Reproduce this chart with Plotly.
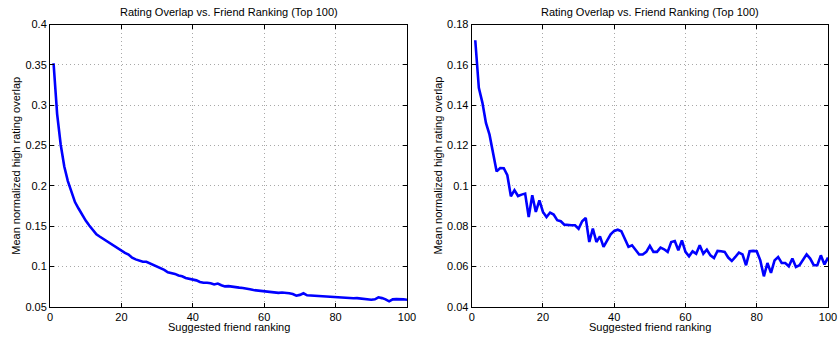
import plotly.graph_objects as go

rank = list(range(1, 101))

left_overlap = [
    0.352, 0.289, 0.251, 0.224, 0.206, 0.192, 0.180, 0.172, 0.164, 0.157,
    0.151, 0.145, 0.140, 0.137, 0.134, 0.131, 0.129, 0.126, 0.122, 0.119,
    0.117, 0.115, 0.111, 0.109, 0.107, 0.106, 0.106, 0.104, 0.102, 0.101,
    0.099, 0.096, 0.093, 0.092, 0.091, 0.089, 0.088, 0.086, 0.085, 0.084,
    0.083, 0.081, 0.080, 0.080, 0.0795, 0.078, 0.079, 0.077, 0.0755, 0.0758,
    0.0755, 0.0745, 0.074, 0.0735, 0.073, 0.072, 0.071, 0.0705, 0.070, 0.0695,
    0.0693, 0.069, 0.068, 0.0675, 0.068, 0.0678, 0.067, 0.066, 0.064, 0.065,
    0.067, 0.0645, 0.0642, 0.0638, 0.0635, 0.0632, 0.063, 0.0628, 0.063, 0.062,
    0.0615, 0.062, 0.061, 0.0612, 0.0608, 0.061, 0.0605, 0.060, 0.0595, 0.059,
    0.0595, 0.062, 0.061, 0.0595, 0.057, 0.0595, 0.0598, 0.060, 0.0595, 0.059,
]

right_overlap = [
    0.1722, 0.1486, 0.1413, 0.1312, 0.1254, 0.1164, 0.1072, 0.1089, 0.1088, 0.1053,
    0.0949, 0.0979, 0.0950, 0.0957, 0.0962, 0.0846, 0.0954, 0.0871, 0.0929, 0.0871,
    0.0846, 0.0868, 0.0858, 0.0830, 0.0825, 0.0808, 0.0805, 0.0805, 0.0805, 0.0788,
    0.0825, 0.0841, 0.0722, 0.0788, 0.0722, 0.0750, 0.0698, 0.0730, 0.0760, 0.0777,
    0.0783, 0.0775, 0.0739, 0.0698, 0.0706, 0.0681, 0.0660, 0.0660, 0.0673, 0.0703,
    0.0673, 0.0673, 0.0694, 0.0686, 0.0673, 0.0722, 0.0727, 0.0681, 0.0730, 0.0673,
    0.0651, 0.0676, 0.0664, 0.0706, 0.0664, 0.0684, 0.0656, 0.0643, 0.0678, 0.0676,
    0.0673, 0.0645, 0.0628, 0.0648, 0.0670, 0.0661, 0.0607, 0.0676, 0.0678, 0.0676,
    0.0631, 0.0552, 0.0618, 0.0569, 0.0631, 0.0648, 0.0618, 0.0618, 0.0602, 0.0640,
    0.0598, 0.0607, 0.0631, 0.0661, 0.0640, 0.0607, 0.0607, 0.0656, 0.0611, 0.0645,
]

x_ticks = [0, 20, 40, 60, 80, 100]
left_y_ticks = [0.05, 0.1, 0.15, 0.2, 0.25, 0.3, 0.35, 0.4]
left_y_labels = ["0.05", "0.1", "0.15", "0.2", "0.25", "0.3", "0.35", "0.4"]
right_y_ticks = [0.04, 0.06, 0.08, 0.1, 0.12, 0.14, 0.16, 0.18]
right_y_labels = ["0.04", "0.06", "0.08", "0.1", "0.12", "0.14", "0.16", "0.18"]

title_text = "Rating Overlap vs. Friend Ranking (Top 100)"
x_label = "Suggested friend ranking"
y_label = "Mean normalized high rating overlap"

W, H = 839, 337
FONT = "Liberation Sans, Arial, Helvetica, sans-serif"

fig = go.Figure()
fig.add_trace(go.Scatter(x=rank, y=left_overlap, mode="lines",
                         line=dict(color="#0000FF", width=2.6),
                         xaxis="x", yaxis="y", showlegend=False))
fig.add_trace(go.Scatter(x=rank, y=right_overlap, mode="lines",
                         line=dict(color="#0000FF", width=2.6),
                         xaxis="x2", yaxis="y2", showlegend=False))

L_dom = [50 / W, 407 / W]
R_dom = [471.7 / W, 828 / W]
Y_dom = [(H - 307) / H, (H - 24.5) / H]

GRID = "#a8a8a8"
common_x = dict(range=[0, 100], tickvals=x_ticks, ticks="inside", ticklen=4,
                tickcolor="black", showline=True, linecolor="black", linewidth=1,
                mirror="ticks", showgrid=True, gridcolor=GRID, griddash="1px,3px",
                gridwidth=1, zeroline=False, automargin=False,
                tickfont=dict(size=11, color="black", family=FONT))
common_y = dict(ticks="inside", ticklen=4, tickcolor="black", showline=True,
                linecolor="black", linewidth=1, mirror="ticks", showgrid=True,
                gridcolor=GRID, griddash="1px,3px", gridwidth=1, zeroline=False,
                automargin=False,
                tickfont=dict(size=11, color="black", family=FONT))

fig.update_layout(
    width=W, height=H,
    margin=dict(l=0, r=0, t=0, b=0),
    paper_bgcolor="white", plot_bgcolor="white",
    font=dict(family=FONT, color="black", size=11),
    xaxis=dict(domain=L_dom, anchor="y", **common_x),
    yaxis=dict(domain=Y_dom, anchor="x", range=[0.05, 0.4], tickvals=left_y_ticks,
               ticktext=left_y_labels, **common_y),
    xaxis2=dict(domain=R_dom, anchor="y2", **common_x),
    yaxis2=dict(domain=Y_dom, anchor="x2", range=[0.04, 0.18], tickvals=right_y_ticks,
                ticktext=right_y_labels, **common_y),
)

annotations = []
for dom in (L_dom, R_dom):
    cx = (dom[0] + dom[1]) / 2
    annotations.append(dict(text=title_text, x=cx, y=(H - 12) / H, xref="paper", yref="paper",
                            showarrow=False, xanchor="center", yanchor="middle",
                            font=dict(size=11, family=FONT, color="black")))
    annotations.append(dict(text=x_label, x=cx, y=(H - 327) / H, xref="paper", yref="paper",
                            showarrow=False, xanchor="center", yanchor="middle",
                            font=dict(size=11, family=FONT, color="black")))
    annotations.append(dict(text=y_label, x=(dom[0] * W - 34) / W, y=(Y_dom[0] + Y_dom[1]) / 2,
                            xref="paper", yref="paper", textangle=-90,
                            showarrow=False, xanchor="center", yanchor="middle",
                            font=dict(size=11, family=FONT, color="black")))
fig.update_layout(annotations=annotations)

fig.write_html("out.html")
